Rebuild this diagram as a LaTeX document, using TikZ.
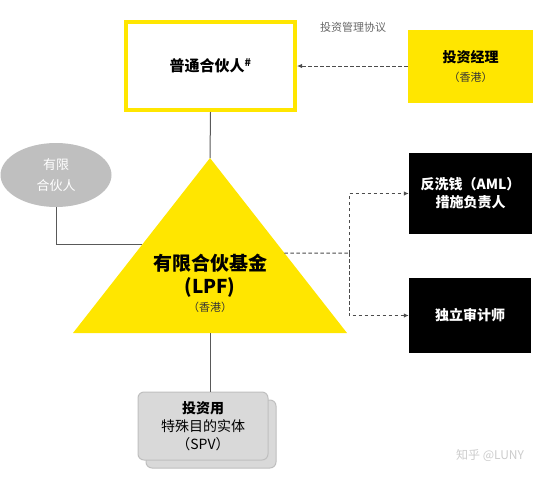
\documentclass[tikz,border=0pt]{standalone}
\usepackage{fontspec}
\setmainfont{Noto Sans CJK SC}
\usepackage{tikz}
\usetikzlibrary{arrows.meta,shapes.geometric,calc}
\definecolor{eyyellow}{HTML}{FFE600}
\newcommand\hknote{{\mdseries\fontsize{11}{13}\selectfont\color{black!80}（香港）}}

\begin{document}
\begin{tikzpicture}[x=1pt,y=-1pt,
  box/.style={rectangle,inner sep=0pt,align=center,font=\bfseries\fontsize{14}{18}\selectfont},
  darkbox/.style={box,fill=black,text=white},
  link/.style={draw=black!65,line width=1pt},
  dashlink/.style={draw=black!70,line width=1pt,dash pattern=on 3.5pt off 2.5pt},
  tip/.style={-{Latex[length=5pt,width=4.5pt]}},
  spvbox/.style={rectangle,rounded corners=6pt,fill=black!15,draw=black!25,line width=1pt,
    minimum width=130,minimum height=68,align=center,font=\fontsize{14}{18}\selectfont}]
\useasboundingbox (0,0) rectangle (554,477);

\fill[eyyellow] (210,158) coordinate (top) -- (347,333) coordinate (br) -- (73,333) coordinate (bl) -- cycle;
\coordinate (lside) at ($(top)!0.497!(bl)$);
\coordinate (rside) at ($(top)!0.543!(br)$);
\coordinate (bot) at ($(bl)!0.5!(br)$);
\coordinate (split) at (349,253);

\node[box,draw=eyyellow,line width=4pt,fill=white,minimum width=169,minimum height=88,font=\bfseries\fontsize{15}{18}\selectfont] (gp) at (210.5,66) {普通合伙人\textsuperscript{\#}};
\node[box,fill=eyyellow,minimum width=125,minimum height=73] (im) at (470.5,66) {投资经理\\[1pt]\hknote};
\node[text=black!60,font=\fontsize{11}{13}\selectfont] (agr) at (353,27) {投资管理协议};
\node[ellipse,fill=black!25,text=white,minimum width=111,minimum height=64,align=center,inner sep=0pt,font=\fontsize{13}{21}\selectfont] (lp) at (56,175) {有限\\合伙人};
\node[align=center,font=\bfseries\fontsize{19}{23}\selectfont] (lpf) at (210,283) {有限合伙基金\\(LPF)\\[-5pt]\hknote};
\node[darkbox,minimum width=123,minimum height=81] (aml) at (470.5,193.5) {反洗钱（AML）\\措施负责人};
\node[darkbox,minimum width=122,minimum height=75] (aud) at (470,315.5) {独立审计师};
\node[spvbox] (spvback) at (211,434) {};
\node[spvbox] (spv) at (203,426) {\textbf{投资用}\\特殊目的实体\\（SPV）};
\node[text=black!20,font=\fontsize{12}{14}\selectfont] (mark) at (490,455) {知乎 @LUNY};

\draw[link] (gp.south) -- (top);
\draw[link] (lp.south) |- (lside);
\draw[link] (bot) -- (bot |- spv.north);
\draw[dashlink,tip] (im.west) -- (gp.east);
\draw[dashlink] (rside) -- (split);
\draw[dashlink,tip] (split) |- (aml.west);
\draw[dashlink,tip] (split) |- (aud.west);
\end{tikzpicture}
\end{document}
